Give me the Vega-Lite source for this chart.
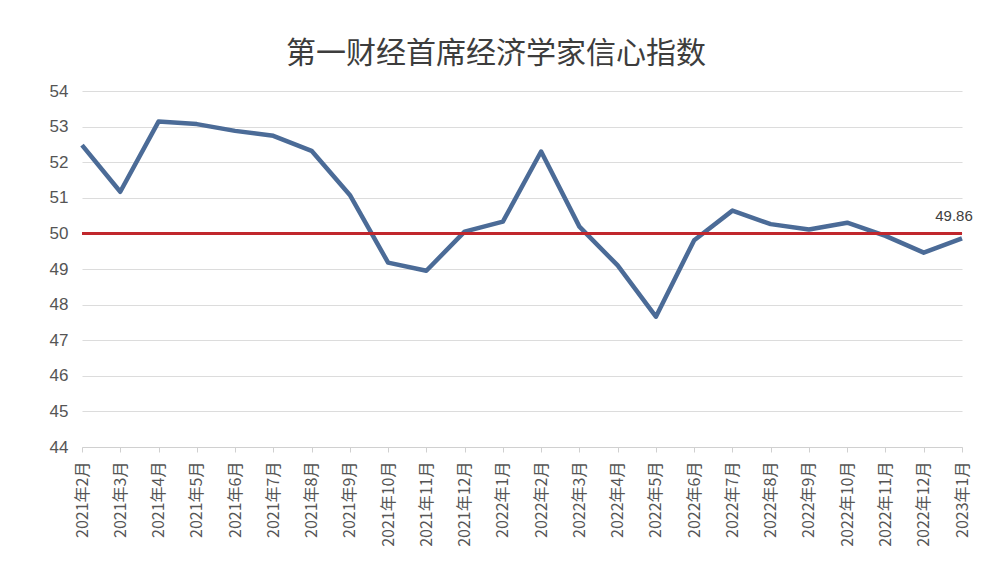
{
  "$schema": "https://vega.github.io/schema/vega-lite/v6.json",
  "autosize": {"type": "none"},
  "padding": {"left": 82, "top": 91, "right": 43, "bottom": 133},
  "width": 880,
  "height": 356,
  "background": "white",
  "title": {
    "text": "第一财经首席经济学家信心指数",
    "font": "Noto Sans CJK SC",
    "fontSize": 30,
    "fontWeight": "normal",
    "color": "#3d3d3d",
    "anchor": "middle",
    "dx": -26,
    "offset": 13
  },
  "config": {
    "view": {"stroke": null},
    "axis": {"labelFont": "Noto Sans CJK SC", "labelColor": "#555555"}
  },
  "data": {
    "values": [
      {"month": "2021年2月", "value": 52.48},
      {"month": "2021年3月", "value": 51.17},
      {"month": "2021年4月", "value": 53.14},
      {"month": "2021年5月", "value": 53.07},
      {"month": "2021年6月", "value": 52.88},
      {"month": "2021年7月", "value": 52.74},
      {"month": "2021年8月", "value": 52.32},
      {"month": "2021年9月", "value": 51.08},
      {"month": "2021年10月", "value": 49.18},
      {"month": "2021年11月", "value": 48.95},
      {"month": "2021年12月", "value": 50.05},
      {"month": "2022年1月", "value": 50.33},
      {"month": "2022年2月", "value": 52.3},
      {"month": "2022年3月", "value": 50.19},
      {"month": "2022年4月", "value": 49.1},
      {"month": "2022年5月", "value": 47.66},
      {"month": "2022年6月", "value": 49.81},
      {"month": "2022年7月", "value": 50.64},
      {"month": "2022年8月", "value": 50.26},
      {"month": "2022年9月", "value": 50.11},
      {"month": "2022年10月", "value": 50.3},
      {"month": "2022年11月", "value": 49.93},
      {"month": "2022年12月", "value": 49.46},
      {"month": "2023年1月", "value": 49.86, "label": "49.86"}
    ]
  },
  "encoding": {
    "x": {
      "field": "month",
      "type": "ordinal",
      "sort": null,
      "scale": {"type": "point", "padding": 0},
      "axis": {
        "title": null,
        "labelAngle": -90,
        "labelFontSize": 16,
        "labelPadding": 9,
        "tickSize": 5,
        "tickColor": "#d0d0d0",
        "domainColor": "#d0d0d0",
        "grid": false
      }
    },
    "y": {
      "field": "value",
      "type": "quantitative",
      "scale": {"domain": [44, 54], "nice": false, "zero": false},
      "axis": {
        "title": null,
        "values": [44, 45, 46, 47, 48, 49, 50, 51, 52, 53, 54],
        "labelFontSize": 17,
        "labelFont": "Liberation Sans",
        "labelPadding": 14,
        "ticks": false,
        "domain": false,
        "gridColor": "#dcdcdc",
        "gridWidth": 1.2
      }
    }
  },
  "layer": [
    {
      "mark": {"type": "line", "color": "#4b6b97", "strokeWidth": 4.5, "strokeJoin": "round"}
    },
    {
      "mark": {"type": "rule", "color": "#c0272d", "strokeWidth": 2.5},
      "encoding": {"x": {"value": 0}, "x2": {"value": 880}, "y": {"datum": 50}}
    },
    {
      "transform": [{"filter": "datum.label != null"}],
      "mark": {"type": "text", "font": "Liberation Sans", "fontSize": 15, "color": "#404040", "dx": -8, "dy": -22},
      "encoding": {"text": {"field": "label"}}
    }
  ]
}
